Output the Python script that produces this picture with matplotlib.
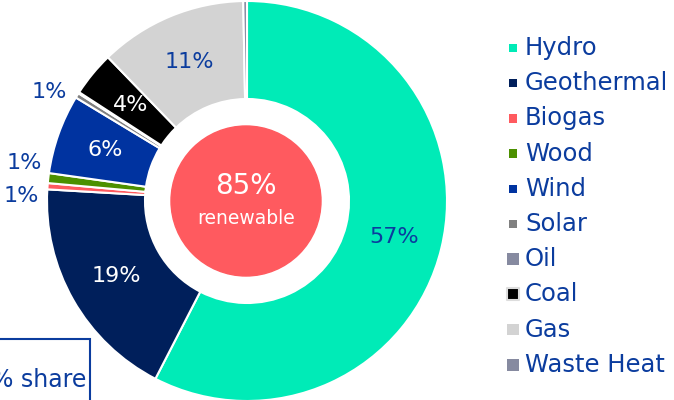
import numpy as np
import matplotlib.pyplot as plt
from matplotlib.patches import Circle, Rectangle

plt.rcParams['font.family'] = ['DejaVu Sans']

# data
sources = ['Hydro', 'Geothermal', 'Biogas', 'Wood', 'Wind', 'Solar',
           'Oil', 'Coal', 'Gas', 'Waste Heat']
shares = [57.4, 18.3, 0.5, 0.8, 6.4, 0.4, 0.1, 3.6, 11.9, 0.3]
pct_labels = ['57%', '19%', '1%', '1%', '6%', '1%', '', '4%', '11%', '']
colors = ['#00ebb7', '#001f5b', '#ff5a5f', '#4c9000', '#0033a0', '#808080',
          '#868aa0', '#000000', '#d3d3d3', '#868aa0']
renewable_text = '85%'

blue = '#0b3c9e'
label_colors = [blue, 'white', blue, blue, 'white', blue, blue, 'white', blue, blue]
outside = [False, False, True, True, False, True, False, False, False, False]
nudge = [0, 0, 3, -3, 0, 3, 0, 0, 0, 0]  # degrees, to spread small labels apart

fig = plt.figure(figsize=(6.74, 4.0), dpi=100)
ax = fig.add_axes([0, 0, 1, 1])

cx, cy, R = 247, 199, 200
wedges, _ = ax.pie(shares, colors=colors, startangle=90, counterclock=False,
                   center=(cx, cy), radius=R, frame=True,
                   wedgeprops=dict(width=98, edgecolor='white', linewidth=1.5))
ax.set_xlim(0, 674)
ax.set_ylim(0, 400)
ax.set_aspect('equal')
ax.axis('off')

for w, lab, col, out, dn in zip(wedges, pct_labels, label_colors, outside, nudge):
    if not lab:
        continue
    ang = np.deg2rad((w.theta1 + w.theta2) / 2 + dn)
    r = 226 if out else 151
    ax.text(cx + r * np.cos(ang), cy + r * np.sin(ang), lab, color=col,
            fontsize=16, ha='center', va='center')

# centre circle
ax.add_patch(Circle((cx - 1, cy), 75, color='#ff5a5f', zorder=3))
ax.text(cx - 1, cy + 15, renewable_text, color='white', fontsize=20,
        ha='center', va='center', zorder=4)
ax.text(cx - 1, cy - 17, 'renewable', color='white', fontsize=13.5,
        ha='center', va='center', zorder=4)

# legend
big = [False] * 6 + [True] * 4
for i, (name, c, b) in enumerate(zip(sources, colors, big)):
    y = 352 - i * 35.2
    ax.scatter(513, y, marker='s', s=70 if b else 38, color=c,
               edgecolors='#dddddd' if name == 'Coal' else 'none', linewidths=1.5)
    ax.text(525, y, name, color=blue, fontsize=17.5, va='center', ha='left')

# cut-off note box at bottom-left
ax.add_patch(Rectangle((-10, -20), 100, 81, fill=False, edgecolor=blue, linewidth=1.5))
ax.text(-9, 20, '% share', color=blue, fontsize=17, ha='left', va='center')

fig.savefig('out.png', dpi=100)
